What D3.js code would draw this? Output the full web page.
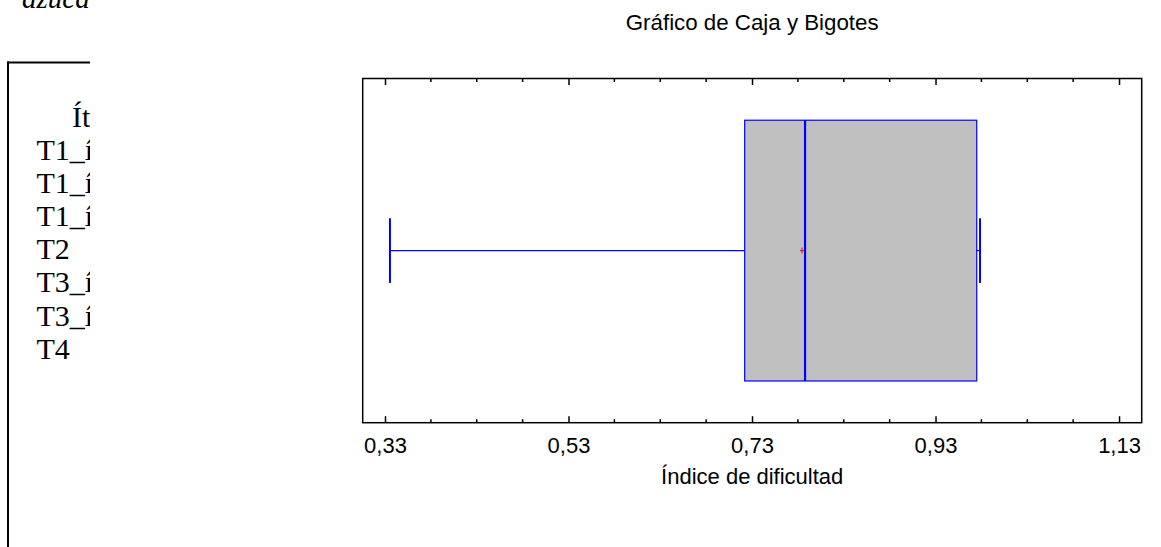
<!DOCTYPE html>
<html>
<head>
<meta charset="utf-8">
<script src="https://cdn.jsdelivr.net/npm/d3@7"></script>
<style>
  html, body { margin: 0; padding: 0; background: #fff; }
  svg { display: block; }
</style>
</head>
<body>
<svg id="chart" width="1161" height="547"></svg>
<script>
// ---- data ----
const categories = ["Índice de dificultad"];
const whiskerLow = [0.3354];
const q1Values = [0.722];
const medianValues = [0.7878];
const meanValues = [0.7845];
const q3Values = [0.9749];
const whiskerHigh = [0.9785];
const majorTicks = [0.33, 0.53, 0.73, 0.93, 1.13];
const minorTicks = [0.38, 0.43, 0.48, 0.58, 0.63, 0.68, 0.78, 0.83, 0.88, 0.98, 1.03, 1.08];
const tickLabels = ["0,33", "0,53", "0,73", "0,93", "1,13"];
const titleText = "Gráfico de Caja y Bigotes";
const xTitle = "Índice de dificultad";
// surrounding document fragment (cut off by the chart image)
const docTop = "azúcar";
const docHeader = "Ítem";
const docRows = ["T1_ítem 1", "T1_ítem 2", "T1_ítem 3", "T2", "T3_ítem 1", "T3_ítem 2", "T4"];

const svg = d3.select("#chart");
const W = 1161, H = 547;

// ---- document fragment on the left ----
svg.append("defs").append("clipPath").attr("id", "docclip")
  .append("rect").attr("x", 0).attr("y", 0).attr("width", 90).attr("height", H);
const doc = svg.append("g").attr("clip-path", "url(#docclip)");
const serif = "Liberation Serif, Times New Roman, serif";
doc.append("text").attr("x", 22).attr("y", 7.5)
  .attr("font-family", serif)
  .attr("font-style", "italic").attr("font-size", 29).attr("fill", "#000").text(docTop);
doc.append("line").attr("x1", 7).attr("x2", 95).attr("y1", 62.5).attr("y2", 62.5)
  .attr("stroke", "#000").attr("stroke-width", 2);
doc.append("line").attr("x1", 8).attr("x2", 8).attr("y1", 61.5).attr("y2", H)
  .attr("stroke", "#000").attr("stroke-width", 2);
doc.append("text").attr("x", 72).attr("y", 127)
  .attr("font-family", serif)
  .attr("font-size", 30).attr("fill", "#000").text(docHeader);
doc.selectAll("text.row").data(docRows).join("text").attr("class", "row")
  .attr("x", 36.5).attr("y", (d, i) => 159.5 + i * 33.2)
  .attr("font-family", serif)
  .attr("font-size", 30).attr("fill", "#000").text(d => d);

// ---- chart ----
const plot = { left: 362.7, right: 1141.7, top: 78.5, bottom: 422.7 };
const x = d3.scaleLinear().domain([0.3057, 1.1547]).range([plot.left, plot.right]);
const y = d3.scaleBand().domain(categories).range([plot.top, plot.bottom])
  .paddingInner(0).paddingOuter(0.16);

const font = "Liberation Sans, Arial, Helvetica, sans-serif";

svg.append("text").attr("x", (plot.left + plot.right) / 2).attr("y", 30)
  .attr("text-anchor", "middle").attr("font-family", font).attr("font-size", 22.3)
  .attr("fill", "#000").text(titleText);

// axes (ticks pointing inward)
const gB = svg.append("g").attr("transform", `translate(0,${plot.bottom})`);
gB.call(d3.axisBottom(x).tickValues(majorTicks).tickSize(-6.5).tickPadding(15)
  .tickFormat((d, i) => tickLabels[i]));
gB.select(".domain").remove();
gB.selectAll(".tick line").attr("stroke", "#000").attr("stroke-width", 1.5);
gB.selectAll(".tick text").attr("font-family", font).attr("font-size", 22).attr("fill", "#000");
gB.selectAll("line.minor").data(minorTicks).join("line").attr("class", "minor")
  .attr("x1", d => x(d)).attr("x2", d => x(d)).attr("y1", 0).attr("y2", -3.5)
  .attr("stroke", "#000").attr("stroke-width", 1.5);

const gT = svg.append("g").attr("transform", `translate(0,${plot.top})`);
gT.call(d3.axisTop(x).tickValues(majorTicks).tickSize(-6.5).tickFormat(""));
gT.select(".domain").remove();
gT.selectAll(".tick line").attr("stroke", "#000").attr("stroke-width", 1.5);
gT.selectAll("line.minor").data(minorTicks).join("line").attr("class", "minor")
  .attr("x1", d => x(d)).attr("x2", d => x(d)).attr("y1", 0).attr("y2", 3.5)
  .attr("stroke", "#000").attr("stroke-width", 1.5);

// box plot
const blue = "#0000ff";
const boxes = categories.map((c, i) => ({
  c, lo: whiskerLow[i], q1: q1Values[i], med: medianValues[i],
  mean: meanValues[i], q3: q3Values[i], hi: whiskerHigh[i]
}));
const g = svg.append("g");
boxes.forEach(b => {
  const y0 = y(b.c), bw = y.bandwidth(), cy = y0 + bw / 2;
  const capH = bw * 0.248;
  g.append("line").attr("x1", x(b.lo)).attr("x2", x(b.q1)).attr("y1", cy).attr("y2", cy)
    .attr("stroke", blue).attr("stroke-width", 1.2);
  g.append("line").attr("x1", x(b.q3)).attr("x2", x(b.hi)).attr("y1", cy).attr("y2", cy)
    .attr("stroke", blue).attr("stroke-width", 1.2);
  g.append("line").attr("x1", x(b.lo)).attr("x2", x(b.lo)).attr("y1", cy - capH / 2).attr("y2", cy + capH / 2)
    .attr("stroke", blue).attr("stroke-width", 2);
  g.append("line").attr("x1", x(b.hi)).attr("x2", x(b.hi)).attr("y1", cy - capH / 2).attr("y2", cy + capH / 2)
    .attr("stroke", blue).attr("stroke-width", 2);
  g.append("rect").attr("x", x(b.q1)).attr("y", y0).attr("width", x(b.q3) - x(b.q1)).attr("height", bw)
    .attr("fill", "#c0c0c0").attr("stroke", blue).attr("stroke-width", 1.2);
  g.append("line").attr("x1", x(b.med)).attr("x2", x(b.med)).attr("y1", y0).attr("y2", y0 + bw)
    .attr("stroke", blue).attr("stroke-width", 2.2);
  const mx = x(b.mean);
  g.append("line").attr("x1", mx - 2).attr("x2", mx + 2).attr("y1", cy).attr("y2", cy)
    .attr("stroke", "#ff0000").attr("stroke-width", 1);
  g.append("line").attr("x1", mx).attr("x2", mx).attr("y1", cy - 3).attr("y2", cy + 3)
    .attr("stroke", "#ff0000").attr("stroke-width", 1);
});

// frame
svg.append("rect").attr("x", plot.left).attr("y", plot.top)
  .attr("width", plot.right - plot.left).attr("height", plot.bottom - plot.top)
  .attr("fill", "none").attr("stroke", "#000").attr("stroke-width", 1.5);

// x title
svg.append("text").attr("x", (plot.left + plot.right) / 2).attr("y", 484)
  .attr("text-anchor", "middle").attr("font-family", font).attr("font-size", 22)
  .attr("fill", "#000").text(xTitle);
</script>
</body>
</html>
